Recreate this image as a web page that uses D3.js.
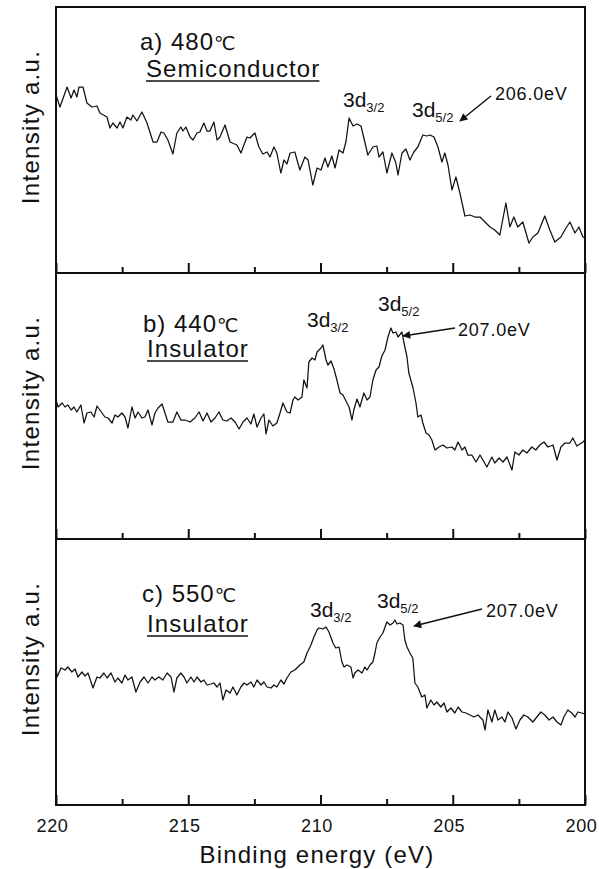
<!DOCTYPE html>
<html>
<head>
<meta charset="utf-8">
<script src="https://cdn.jsdelivr.net/npm/d3@7"></script>
<style>
  body { margin: 0; background: #fff; }
  text { font-family: "Liberation Sans", Arial, Helvetica, sans-serif; fill: #111; }
</style>
</head>
<body>
<div id="chart"></div>
<script>
// tick values (binding energy, eV)
const majorTicks = [220, 215, 210, 205, 200]
const minorTicks = [217.5, 212.5, 207.5, 202.5]

// a) 480C semiconductor
const energyA = [220.00, 219.85, 219.58, 219.43, 219.32, 219.21, 219.13, 218.98, 218.83, 218.64, 218.45, 218.34, 218.07, 217.96, 217.85, 217.69, 217.58, 217.47, 217.32, 217.17, 217.09, 216.94, 216.75, 216.56, 216.33, 216.18, 216.03, 215.92, 215.77, 215.58, 215.43, 215.28, 215.20, 215.09, 214.93, 214.82, 214.67, 214.56, 214.41, 214.29, 214.18, 214.03, 213.91, 213.80, 213.61, 213.42, 213.16, 213.01, 212.78, 212.67, 212.48, 212.33, 212.18, 212.02, 211.91, 211.76, 211.65, 211.50, 211.38, 211.27, 211.15, 210.97, 210.78, 210.59, 210.47, 210.29, 210.13, 209.98, 209.83, 209.72, 209.57, 209.45, 209.30, 209.15, 209.04, 208.92, 208.77, 208.62, 208.47, 208.36, 208.21, 208.02, 207.87, 207.79, 207.64, 207.49, 207.30, 207.15, 207.07, 206.92, 206.77, 206.62, 206.47, 206.32, 206.13, 205.98, 205.86, 205.71, 205.56, 205.41, 205.30, 205.18, 205.03, 204.88, 204.73, 204.54, 204.35, 204.16, 203.97, 203.78, 203.59, 203.41, 203.22, 202.99, 202.84, 202.69, 202.54, 202.35, 202.12, 201.97, 201.78, 201.52, 201.33, 201.14, 200.91, 200.72, 200.57, 200.38, 200.23, 200.08, 200.00]
const intensityA = [89, 83, 93, 87.5, 91.5, 88, 93, 93, 85, 83, 83.5, 80, 78, 72.5, 75, 72.5, 75.5, 72.5, 78, 76.5, 79, 76, 80.5, 75, 65.5, 65.5, 70.5, 70, 66.5, 59.5, 70, 73, 71, 73, 68, 66.5, 70, 70.5, 75, 71, 71, 75.5, 66.5, 68, 74, 65.5, 64, 60, 68, 67.5, 70, 63, 59.5, 60.5, 58, 63, 60, 50, 56.5, 54.5, 60, 60.5, 51.5, 58, 56.5, 44, 52.5, 51.5, 57.5, 53, 58.5, 52.5, 61.5, 60, 65.5, 77.5, 73.5, 74.5, 73.5, 67.5, 59, 63, 63.5, 58, 60.5, 50, 60, 55, 49, 60, 62, 56.5, 60.5, 63, 69, 68.5, 69, 68, 63, 55.5, 60, 54, 41.5, 48, 40, 28.5, 29, 28, 28, 25.5, 23, 21.5, 19, 35, 23, 28, 23, 25.5, 15, 18, 20, 28.5, 21.5, 15.5, 18, 22.5, 25.5, 20, 23, 18, 17.5]

// b) 440C insulator
const energyB = [220.00, 219.92, 219.77, 219.66, 219.55, 219.43, 219.32, 219.21, 219.06, 218.94, 218.83, 218.68, 218.56, 218.45, 218.26, 218.15, 218.03, 217.88, 217.77, 217.66, 217.51, 217.39, 217.28, 217.13, 217.01, 216.90, 216.75, 216.64, 216.52, 216.37, 216.26, 216.14, 215.99, 215.88, 215.77, 215.58, 215.43, 215.28, 215.12, 214.93, 214.75, 214.59, 214.44, 214.29, 214.14, 213.99, 213.84, 213.69, 213.54, 213.38, 213.23, 213.08, 212.93, 212.78, 212.63, 212.52, 212.40, 212.25, 212.14, 212.06, 211.95, 211.80, 211.65, 211.53, 211.42, 211.27, 211.15, 211.04, 210.97, 210.85, 210.70, 210.63, 210.51, 210.44, 210.32, 210.21, 210.13, 209.98, 209.91, 209.79, 209.72, 209.60, 209.49, 209.38, 209.26, 209.15, 209.00, 208.92, 208.81, 208.74, 208.62, 208.51, 208.36, 208.24, 208.13, 208.02, 207.90, 207.79, 207.68, 207.56, 207.45, 207.34, 207.26, 207.15, 207.07, 206.92, 206.85, 206.73, 206.66, 206.51, 206.39, 206.32, 206.20, 206.13, 206.01, 205.90, 205.79, 205.67, 205.52, 205.37, 205.22, 205.03, 204.92, 204.80, 204.65, 204.54, 204.43, 204.28, 204.12, 203.97, 203.86, 203.71, 203.52, 203.41, 203.25, 203.10, 202.95, 202.76, 202.65, 202.50, 202.35, 202.20, 202.01, 201.86, 201.71, 201.55, 201.40, 201.21, 201.06, 200.91, 200.76, 200.57, 200.46, 200.31, 200.08, 200.00]
const intensityB = [69.5, 66, 68, 66, 67, 64.5, 66, 63.5, 67, 58, 63, 63.5, 61, 66.5, 63, 61, 60.5, 58, 62, 61, 63, 61, 55.5, 66, 60.5, 63.5, 60.5, 61, 64.5, 57, 63, 65.5, 67.5, 63, 58.5, 58.5, 63.5, 59.5, 59.5, 58.5, 60.5, 63.5, 59, 63, 58.5, 60.5, 63.5, 59.5, 59, 60.5, 58.5, 55, 58.5, 60.5, 57.5, 62.5, 56, 60.5, 62.5, 52.5, 59.5, 56.5, 58, 63, 68, 63.5, 63, 69.5, 71, 69.5, 71, 79.5, 75.5, 88.5, 90.5, 89.5, 93.5, 95.5, 97, 89.5, 87, 89, 85, 79.5, 73, 72, 68, 66, 59.5, 64.5, 70, 66, 73, 69.5, 71, 79.5, 84.5, 86, 91.5, 94.5, 101, 105.5, 103, 103.5, 101, 103.5, 98.5, 91, 83, 76, 68, 61, 62, 58, 53, 52, 49.5, 44.5, 46, 47, 45.5, 46, 44.5, 48.5, 44.5, 46, 42, 42, 38.5, 42, 39.5, 36, 41, 38, 40.5, 38.5, 41, 34.5, 43.5, 42, 44.5, 43, 46, 44.5, 47, 48.5, 46, 47, 39.5, 46, 48, 48, 50.5, 46.5, 48.5, 49.5]

// c) 550C insulator
const energyC = [220.00, 219.96, 219.81, 219.66, 219.55, 219.40, 219.28, 219.17, 219.02, 218.90, 218.79, 218.60, 218.45, 218.34, 218.19, 218.07, 217.92, 217.77, 217.66, 217.51, 217.39, 217.28, 217.13, 216.98, 216.82, 216.67, 216.52, 216.37, 216.26, 216.11, 215.96, 215.80, 215.65, 215.54, 215.43, 215.28, 215.16, 215.05, 214.90, 214.78, 214.67, 214.52, 214.41, 214.29, 214.14, 214.03, 213.91, 213.80, 213.69, 213.57, 213.42, 213.31, 213.16, 213.01, 212.89, 212.78, 212.63, 212.52, 212.40, 212.25, 212.14, 212.02, 211.87, 211.76, 211.65, 211.50, 211.38, 211.27, 211.12, 210.97, 210.78, 210.63, 210.51, 210.36, 210.25, 210.13, 210.06, 209.91, 209.79, 209.68, 209.53, 209.42, 209.30, 209.19, 209.11, 209.00, 208.85, 208.77, 208.70, 208.58, 208.43, 208.32, 208.24, 208.13, 208.02, 207.94, 207.87, 207.75, 207.64, 207.56, 207.49, 207.37, 207.26, 207.19, 207.11, 207.00, 206.88, 206.81, 206.73, 206.62, 206.51, 206.43, 206.32, 206.17, 206.05, 205.98, 205.83, 205.71, 205.60, 205.45, 205.33, 205.22, 205.07, 204.92, 204.80, 204.65, 204.50, 204.35, 204.20, 204.05, 203.86, 203.78, 203.67, 203.52, 203.41, 203.29, 203.14, 203.03, 202.91, 202.76, 202.61, 202.46, 202.31, 202.16, 201.97, 201.82, 201.67, 201.52, 201.36, 201.21, 201.06, 200.91, 200.80, 200.65, 200.50, 200.38, 200.27, 200.12, 200.00]
const intensityC = [69, 64, 68.5, 67.5, 69, 66.5, 68, 64, 66.5, 64.5, 66, 58.5, 64, 63.5, 66, 63.5, 66, 61.5, 63.5, 61, 65, 62.5, 64, 56.5, 61.5, 64, 61, 64, 62.5, 64, 62.5, 66, 64, 56.5, 63.5, 66, 64, 61, 64, 61.5, 64, 61.5, 62.5, 60, 60.5, 61, 59, 61, 52.5, 57.5, 56, 59, 55, 59, 61, 60, 61.5, 59, 62.5, 60, 61.5, 59, 58.5, 60, 59, 62.5, 60.5, 63.5, 66.5, 67.5, 70, 71.5, 76, 80, 84, 87.5, 88.5, 88, 89, 86.5, 81, 78.5, 79, 71.5, 69, 70, 69, 63.5, 66, 67.5, 66, 69, 67.5, 70, 71.5, 76, 81, 84, 86, 89, 91.5, 90, 91, 92.5, 90.5, 91, 90, 82.5, 79, 76, 73.5, 61, 59, 54, 55, 48.5, 52.5, 50, 51.5, 49, 51, 46.5, 48.5, 46, 49, 46.5, 46, 45, 44, 45, 42.5, 37.5, 47.5, 41.5, 47.5, 42.5, 44, 41.5, 46.5, 43.5, 38, 42.5, 45, 44, 41.5, 44, 46.5, 45, 42.5, 44, 41.5, 40, 44, 47.5, 46, 44, 46.5, 46, 45.5]

const panelTitles = ['a) 480', 'b) 440', 'c) 550']
const phaseNames = ['Semiconductor', 'Insulator', 'Insulator']
const peakEnergies = ['206.0eV', '207.0eV', '207.0eV']

const svgW = 599, svgH = 869
const plotL = 56, plotR = 585, plotT = 7, panelH = 266

const svg = d3.select('#chart').append('svg')
  .attr('width', svgW)
  .attr('height', svgH)
  .style('background', '#fff')

const x = d3.scaleLinear().domain([220, 200]).range([plotL, plotR])

const series = [
  { energy: energyA, intensity: intensityA },
  { energy: energyB, intensity: intensityB },
  { energy: energyC, intensity: intensityC }
]

// where the labels sit inside each panel (pixels from the panel top)
const layout = [
  { title: [140, 43], phase: [146, 70], d32: [343, 100], d52: [412, 110], arrow: [491, 89, 460, 114], ev: [495, 93] },
  { title: [143, 59], phase: [147, 84], d32: [307, 54], d52: [378, 38], arrow: [455, 55, 403, 63], ev: [458, 63] },
  { title: [142, 63], phase: [147, 93], d32: [310, 78], d52: [377, 69], arrow: [482, 70, 414, 87], ev: [486, 78] }
]

svg.append('defs').append('marker')
  .attr('id', 'head')
  .attr('viewBox', '0 0 10 10')
  .attr('refX', 9).attr('refY', 5)
  .attr('markerWidth', 12).attr('markerHeight', 8)
  .attr('markerUnits', 'userSpaceOnUse')
  .attr('orient', 'auto')
  .append('path').attr('d', 'M0,0L10,5L0,10z').attr('fill', '#111')

series.forEach((s, i) => {
  const y0 = plotT + i * panelH
  const y = d3.scaleLinear().domain([0, 133]).range([y0 + panelH, y0])
  const g = svg.append('g')
  const pts = s.energy.map((e, k) => [e, s.intensity[k]])

  g.append('path')
    .datum(pts)
    .attr('fill', 'none')
    .attr('stroke', '#111')
    .attr('stroke-width', 1.25)
    .attr('stroke-linejoin', 'round')
    .attr('d', d3.line().x(d => x(d[0])).y(d => y(d[1])))

  // ticks point up into the panel from its bottom edge
  const ax = g.append('g').attr('transform', `translate(0,${y0 + panelH})`)
  ax.call(d3.axisBottom(x).tickValues(majorTicks).tickSize(-10).tickFormat(''))
  ax.select('.domain').remove()
  const axm = g.append('g').attr('transform', `translate(0,${y0 + panelH})`)
  axm.call(d3.axisBottom(x).tickValues(minorTicks).tickSize(-6).tickFormat(''))
  axm.select('.domain').remove()
  g.selectAll('.tick line').attr('stroke', '#111').attr('stroke-width', 2)

  g.append('rect')
    .attr('x', plotL).attr('y', y0)
    .attr('width', plotR - plotL).attr('height', panelH)
    .attr('fill', 'none').attr('stroke', '#111').attr('stroke-width', 2)

  const L = layout[i]

  g.append('text')
    .attr('transform', `translate(39,${y0 + 120}) rotate(-90)`)
    .attr('text-anchor', 'middle')
    .attr('font-size', 24)
    .attr('letter-spacing', 1.3)
    .text('Intensity a.u.')

  const t = g.append('text')
    .attr('x', L.title[0]).attr('y', y0 + L.title[1])
    .attr('font-size', 24).attr('letter-spacing', 1)
  t.append('tspan').text(panelTitles[i])
  t.append('tspan').attr('font-size', 19).attr('letter-spacing', -1)
    .style('font-family', '"DejaVu Sans", sans-serif').text('\u2103')

  const ph = g.append('text')
    .attr('x', L.phase[0]).attr('y', y0 + L.phase[1])
    .attr('font-size', 24).attr('letter-spacing', 1.1)
    .text(phaseNames[i])
  const len = ph.node().getComputedTextLength()
  g.append('line')
    .attr('x1', L.phase[0]).attr('x2', L.phase[0] + len - 1)
    .attr('y1', y0 + L.phase[1] + 4).attr('y2', y0 + L.phase[1] + 4)
    .attr('stroke', '#111').attr('stroke-width', 1.5)

  const peaks = [['3/2', L.d32], ['5/2', L.d52]]
  peaks.forEach(p => {
    const tx = g.append('text')
      .attr('x', p[1][0]).attr('y', y0 + p[1][1])
      .attr('font-size', 21)
    tx.append('tspan').text('3d')
    tx.append('tspan').attr('font-size', 13).attr('dy', 5).text(p[0])
  })

  g.append('line')
    .attr('x1', L.arrow[0]).attr('y1', y0 + L.arrow[1])
    .attr('x2', L.arrow[2]).attr('y2', y0 + L.arrow[3])
    .attr('stroke', '#111').attr('stroke-width', 1.4)
    .attr('marker-end', 'url(#head)')

  g.append('text')
    .attr('x', L.ev[0]).attr('y', y0 + L.ev[1])
    .attr('font-size', 18).attr('letter-spacing', 0.8)
    .text(peakEnergies[i])
})

// tick labels under the last panel
const plotB = plotT + 3 * panelH
const lab = svg.append('g').attr('transform', `translate(0,${plotB})`)
lab.call(d3.axisBottom(x).tickValues(majorTicks).tickSize(0).tickPadding(14).tickFormat(d3.format('d')))
lab.select('.domain').remove()
lab.selectAll('text')
  .attr('x', -4)
  .attr('font-size', 18)
  .attr('letter-spacing', 0.6)
  .style('font-family', '"Liberation Sans", Arial, sans-serif')
  .attr('fill', '#111')

svg.append('text')
  .attr('x', 317).attr('y', 863)
  .attr('text-anchor', 'middle')
  .attr('font-size', 24)
  .attr('letter-spacing', 1.2)
  .text('Binding energy (eV)')
</script>
</body>
</html>
